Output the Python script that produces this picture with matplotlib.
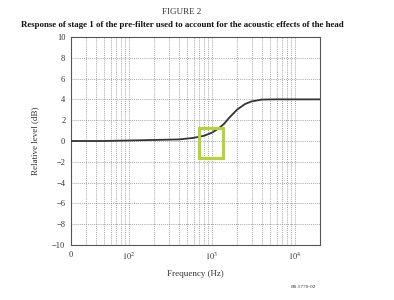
import matplotlib
matplotlib.use('Agg')
import matplotlib.pyplot as plt
from matplotlib.patches import Rectangle

# response of the pre-filter
freq_hz = [20, 50, 100, 200, 400, 600, 800, 1000, 1200, 1400, 1600, 2000, 2500, 3000, 4000, 6000, 10000, 20000]
level_db = [0.0, 0.0, 0.05, 0.1, 0.15, 0.3, 0.5, 0.8, 1.2, 1.65, 2.2, 3.0, 3.55, 3.8, 3.98, 4.0, 4.0, 4.0]

x_ticks = [20, 100, 1000, 10000]
x_tick_labels = ['0', r'$10^2$', r'$10^3$', r'$10^4$']
y_ticks = list(range(-10, 11, 2))

# highlighted region (green box)
box_f = [700, 1350]
box_db = [-1.63, 1.25]

plt.rcParams['font.family'] = ['Liberation Serif', 'DejaVu Serif']
plt.rcParams['mathtext.fontset'] = 'stix'

fig = plt.figure(figsize=(3.94, 3.0), dpi=100)
ax = fig.add_axes([0.180, 0.183, 0.632, 0.694])

ax.set_xscale('log')
ax.set_xlim(20, 20000)
ax.set_ylim(-10, 10)

# dotted grid at every minor decade step and every 2 dB
grid_f = [m * 10 ** d for d in (1, 2, 3) for m in range(1, 10)] + [10000]
for f in grid_f:
    if 20 < f < 20000:
        ax.axvline(f, color='#858585', lw=0.6, ls=(0, (1, 1.5)), zorder=1)
for y in y_ticks[1:-1]:
    ax.axhline(y, color='#858585', lw=0.6, ls=(0, (1, 1.5)), zorder=1)

ax.plot(freq_hz, level_db, color='#333333', lw=1.3, zorder=3)

ax.add_patch(Rectangle((box_f[0], box_db[0]), box_f[1] - box_f[0], box_db[1] - box_db[0],
                       fill=False, edgecolor='#b5d334', lw=2.2, zorder=4))

ax.set_xticks(x_ticks)
ax.set_xticklabels(x_tick_labels)
ax.xaxis.set_minor_locator(matplotlib.ticker.NullLocator())
ax.set_yticks(y_ticks)
ax.tick_params(axis='both', length=0, labelsize=6, colors='#333333', pad=4)
for s in ax.spines.values():
    s.set_color('#555555')
    s.set_linewidth(0.8)

ax.set_xlabel('Frequency (Hz)', fontsize=6.5, color='#333333', labelpad=6)
ax.set_ylabel('Relative level (dB)', fontsize=6.5, color='#333333', labelpad=9)

fig.text(0.462, 0.975, 'FIGURE 2', ha='center', va='top', fontsize=6.5, color='#333333')
fig.text(0.462, 0.93, 'Response of stage 1 of the pre-filter used to account for the acoustic effects of the head',
         ha='center', va='top', fontsize=6.4, fontweight='bold', color='#111111')
fig.text(0.77, 0.043, 'BS.1770-02', ha='center', va='center', fontsize=3.8, color='#333333')

fig.savefig('out.png', dpi=100)
